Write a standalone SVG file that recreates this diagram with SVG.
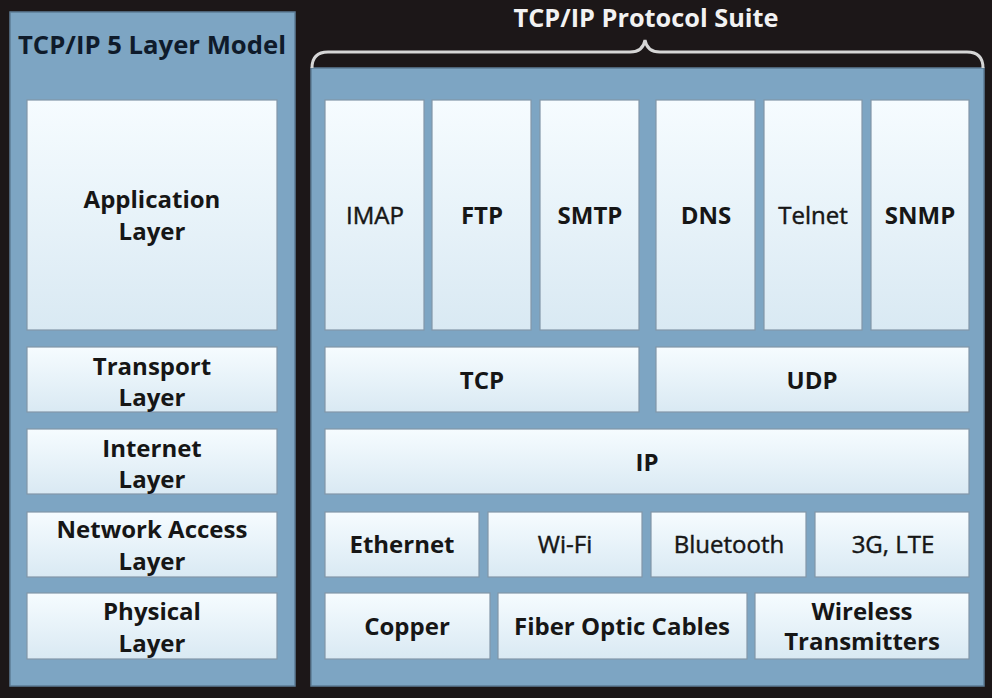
<svg xmlns="http://www.w3.org/2000/svg" width="992" height="698" viewBox="0 0 992 698">
<defs>
<linearGradient id="boxg" x1="0" y1="0" x2="0" y2="1">
<stop offset="0" stop-color="#f6fcff"/>
<stop offset="1" stop-color="#d9e9f3"/>
</linearGradient>
</defs>
<style>
.panel{fill:#7da5c3;stroke:#5d7d96;stroke-width:1.5}
.box{fill:url(#boxg);stroke:#8297a8;stroke-width:1.2}
.t{font-family:"Open Sans","Noto Sans",sans-serif;font-size:24px;font-weight:bold;fill:#161616;text-anchor:middle}
.r{font-weight:normal;stroke:#161616;stroke-width:0.45}
.title{font-family:"Open Sans","Noto Sans",sans-serif;font-size:25px;font-weight:bold;text-anchor:middle}
</style>
<rect x="0" y="0" width="992" height="698" fill="#1c1718"/>
<g id="left-panel">
<rect class="panel" x="10" y="12" width="285" height="674"/>
<text class="title" x="152" y="54" fill="#0f1b2b" textLength="268" lengthAdjust="spacingAndGlyphs">TCP/IP 5 Layer Model</text>
</g>
<g id="right-panel">
<rect class="panel" x="311" y="68" width="673" height="618"/>
<text class="title" x="646" y="27" fill="#f2f2f2" textLength="265" lengthAdjust="spacingAndGlyphs">TCP/IP Protocol Suite</text>
<path d="M312,68 Q312,52 328,52 L630,52 Q643,52 645,40 Q647,52 660,52 L967,52 Q983,52 983,68" fill="none" stroke="#d6d6d6" stroke-width="3"/>
</g>
<g id="application-layer"><rect class="box" x="27" y="100" width="250" height="230"/><text class="t" x="152" y="208">Application</text><text class="t" x="152" y="240">Layer</text></g>
<g id="transport-layer"><rect class="box" x="27" y="347" width="250" height="65"/><text class="t" x="152" y="375">Transport</text><text class="t" x="152" y="406">Layer</text></g>
<g id="internet-layer"><rect class="box" x="27" y="429" width="250" height="65"/><text class="t" x="152" y="457">Internet</text><text class="t" x="152" y="488">Layer</text></g>
<g id="network-access-layer"><rect class="box" x="27" y="512" width="250" height="65"/><text class="t" x="152" y="538">Network Access</text><text class="t" x="152" y="570">Layer</text></g>
<g id="physical-layer"><rect class="box" x="27" y="593" width="250" height="66"/><text class="t" x="152" y="620">Physical</text><text class="t" x="152" y="652">Layer</text></g>
<g id="imap"><rect class="box" x="325" y="100" width="99" height="230"/><text class="t r" x="375" y="224">IMAP</text></g>
<g id="ftp"><rect class="box" x="432" y="100" width="99" height="230"/><text class="t" x="482" y="224">FTP</text></g>
<g id="smtp"><rect class="box" x="540" y="100" width="99" height="230"/><text class="t" x="590" y="224">SMTP</text></g>
<g id="dns"><rect class="box" x="656" y="100" width="99" height="230"/><text class="t" x="706" y="224">DNS</text></g>
<g id="telnet"><rect class="box" x="764" y="100" width="98" height="230"/><text class="t r" x="813" y="224">Telnet</text></g>
<g id="snmp"><rect class="box" x="871" y="100" width="98" height="230"/><text class="t" x="920" y="224">SNMP</text></g>
<g id="tcp"><rect class="box" x="325" y="347" width="314" height="65"/><text class="t" x="482" y="389">TCP</text></g>
<g id="udp"><rect class="box" x="656" y="347" width="313" height="65"/><text class="t" x="812" y="389">UDP</text></g>
<g id="ip"><rect class="box" x="325" y="429" width="644" height="65"/><text class="t" x="647" y="471">IP</text></g>
<g id="ethernet"><rect class="box" x="325" y="512" width="154" height="65"/><text class="t" x="402" y="553">Ethernet</text></g>
<g id="wifi"><rect class="box" x="488" y="512" width="154" height="65"/><text class="t r" x="565" y="553">Wi-Fi</text></g>
<g id="bluetooth"><rect class="box" x="651" y="512" width="155" height="65"/><text class="t r" x="729" y="553">Bluetooth</text></g>
<g id="3g-lte"><rect class="box" x="815" y="512" width="154" height="65"/><text class="t r" x="893" y="553">3G, LTE</text></g>
<g id="copper"><rect class="box" x="325" y="593" width="165" height="66"/><text class="t" x="407" y="635">Copper</text></g>
<g id="fiber"><rect class="box" x="498" y="593" width="249" height="66"/><text class="t" x="622" y="635">Fiber Optic Cables</text></g>
<g id="wireless"><rect class="box" x="755" y="593" width="214" height="66"/><text class="t" x="862" y="620">Wireless</text><text class="t" x="862" y="650">Transmitters</text></g>
<g id="connectors"></g>
</svg>
